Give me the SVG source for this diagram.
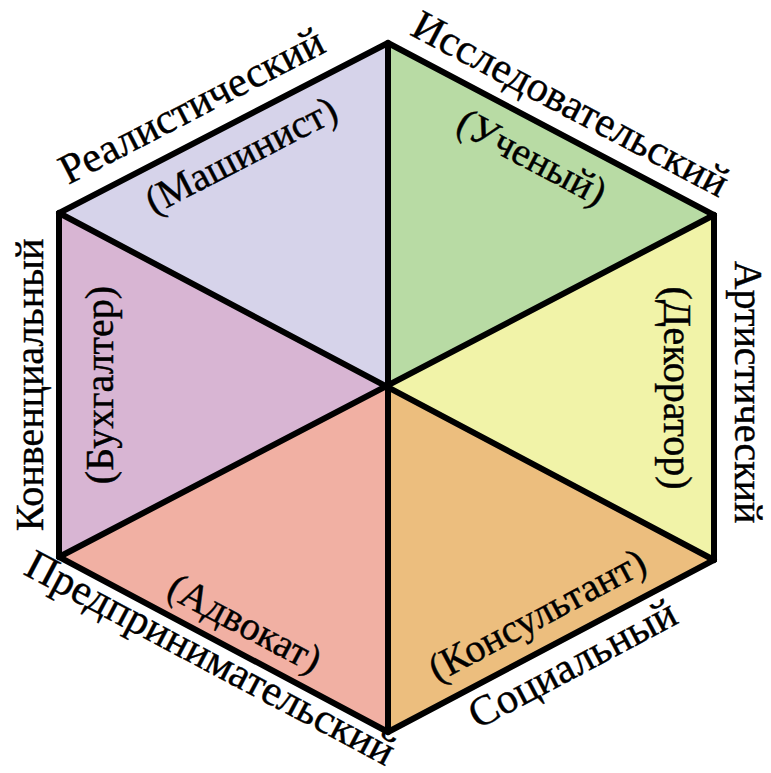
<svg xmlns="http://www.w3.org/2000/svg" width="771" height="773" viewBox="0 0 771 773">
<style>
text{font-family:"Liberation Serif","Times New Roman",serif;font-size:40px;fill:#000;stroke:#000;stroke-width:0.4;text-anchor:middle}
.d{font-size:42.5px}
.in{font-size:40px}
.edge{stroke:#000;stroke-width:6;fill:none;stroke-linejoin:miter;stroke-linecap:round}
</style>
<rect width="771" height="773" fill="#ffffff"/>
<g id="realistic">
<polygon points="388,43 59,213 388,388" fill="#d6d3ea"/>
<text class="d" transform="translate(198,118) rotate(-27.3)">Реалистический</text>
<text class="in" transform="translate(241,155) rotate(-27.3)" dy="0.33em">(Машинист)</text>
</g>
<g id="investigative">
<polygon points="388,43 714,215 388,388" fill="#b8dba4"/>
<text class="d" transform="translate(564,116) rotate(27.8)">Исследовательский</text>
<text class="in" transform="translate(532,157) rotate(27.8)" dy="0.33em">(Ученый)</text>
</g>
<g id="artistic">
<polygon points="714,215 714,560 388,388" fill="#f1f3a8"/>
<text transform="translate(735,392) rotate(90)">Артистический</text>
<text class="in" transform="translate(677,388) rotate(90)" dy="0.33em">(Декоратор)</text>
</g>
<g id="social">
<polygon points="714,560 388,732 388,388" fill="#ecbe7e"/>
<text class="d" transform="translate(579,676) rotate(-27.9)">Социальный</text>
<text class="in" transform="translate(537,615) rotate(-27.9)" dy="0.33em">(Консультант)</text>
</g>
<g id="enterprising">
<polygon points="388,732 59,557 388,388" fill="#f1b0a3"/>
<text class="d" transform="translate(204,670) rotate(27.9)">Предпринимательский</text>
<text class="in" transform="translate(245,623) rotate(27.9)" dy="0.33em">(Адвокат)</text>
</g>
<g id="conventional">
<polygon points="59,557 59,213 388,388" fill="#d8b5d3"/>
<text transform="translate(43,385) rotate(-90)">Конвенциальный</text>
<text class="in" transform="translate(100,385) rotate(-90)" dy="0.33em">(Бухгалтер)</text>
</g>
<g id="connectors">
<polygon class="edge" points="388,43 714,215 714,560 388,732 59,557 59,213"/>
<line class="edge" x1="388" y1="43" x2="388" y2="732"/>
<line class="edge" x1="59" y1="213" x2="714" y2="560"/>
<line class="edge" x1="714" y1="215" x2="59" y2="557"/>
</g>
</svg>
